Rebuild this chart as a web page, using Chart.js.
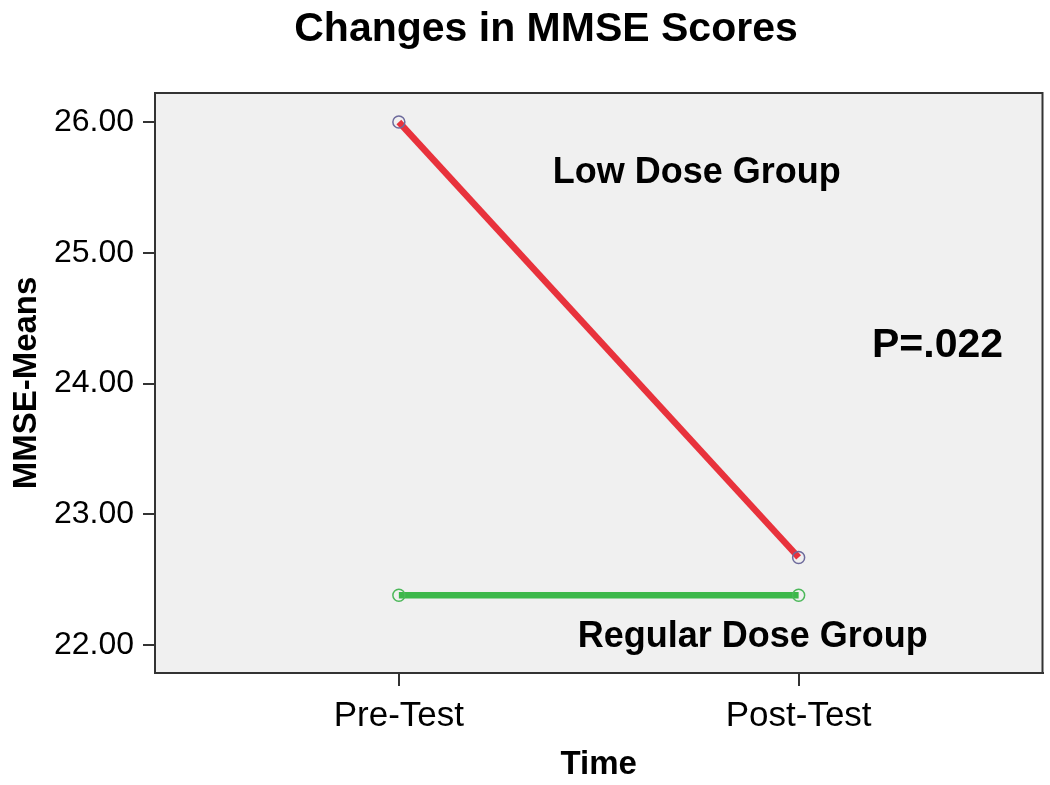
<!DOCTYPE html>
<html>
<head>
<meta charset="utf-8">
<script src="https://cdn.jsdelivr.net/npm/chart.js@4.4.1/dist/chart.umd.min.js"></script>
<style>
  html, body { margin: 0; padding: 0; background: #ffffff; }
  #wrap { width: 1050px; height: 785px; }
</style>
</head>
<body>
<div id="wrap"><canvas id="c" width="1050" height="785"></canvas></div>
<script>
// ---- data ----
const categories = ['Pre-Test', 'Post-Test'];
const lowDose = [26.00, 22.67];
const regularDose = [22.38, 22.38];
const yTicks = [22, 23, 24, 25, 26];
const titleText = 'Changes in MMSE Scores';
const yTitle = 'MMSE-Means';
const xTitle = 'Time';
const notes = [
  { text: 'Low Dose Group', x: 1.745, y: 25.533, size: 36 },
  { text: 'P=.022', x: 2.3475, y: 24.203, size: 41 },
  { text: 'Regular Dose Group', x: 1.885, y: 21.985, size: 36 }
];

const FONT = "'Liberation Sans', Arial, sans-serif";

const toPoints = arr => arr.map((v, i) => ({ x: i + 1, y: v }));

const panelPlugin = {
  id: 'panel',
  beforeDatasetsDraw(chart) {
    const { ctx, chartArea: a } = chart;
    ctx.save();
    ctx.fillStyle = '#f0f0f0';
    ctx.fillRect(a.left, a.top, a.right - a.left, a.bottom - a.top);
    ctx.strokeStyle = '#333333';
    ctx.lineWidth = 2;
    ctx.strokeRect(a.left, a.top, a.right - a.left, a.bottom - a.top);
    ctx.restore();
  },
  afterDatasetsDraw(chart) {
    const { ctx, scales } = chart;
    ctx.save();
    ctx.fillStyle = '#000000';
    ctx.textAlign = 'center';
    ctx.textBaseline = 'alphabetic';
    notes.forEach(n => {
      ctx.font = 'bold ' + n.size + 'px ' + FONT;
      ctx.fillText(n.text, scales.x.getPixelForValue(n.x), scales.y.getPixelForValue(n.y));
    });
    // chart title, centred slightly right of the canvas middle as in the source
    ctx.font = 'bold 41px ' + FONT;
    ctx.fillText(titleText, 546, 41);
    ctx.restore();
  }
};

new Chart(document.getElementById('c'), {
  type: 'line',
  data: {
    datasets: [
      {
        label: 'Low Dose Group',
        data: toPoints(lowDose),
        borderColor: '#e8323c',
        borderWidth: 6.5,
        pointRadius: 6,
        pointBorderWidth: 1.5,
        pointBorderColor: '#6d6a9c',
        pointBackgroundColor: 'rgba(0,0,0,0)',
        clip: false
      },
      {
        label: 'Regular Dose Group',
        data: toPoints(regularDose),
        borderColor: '#3cb84a',
        borderWidth: 6.5,
        pointRadius: 6,
        pointBorderWidth: 1.5,
        pointBorderColor: '#4cb85a',
        pointBackgroundColor: 'rgba(0,0,0,0)',
        clip: false
      }
    ]
  },
  options: {
    responsive: false,
    animation: false,
    layout: { padding: { left: 0, right: 7, top: 93, bottom: 0 } },
    plugins: {
      legend: { display: false },
      tooltip: { enabled: false },
      title: { display: false }
    },
    scales: {
      x: {
        type: 'linear',
        min: 0.39,
        max: 2.61,
        afterFit(scale) { scale.height = 112; },
        afterBuildTicks(scale) { scale.ticks = categories.map((c, i) => ({ value: i + 1 })); },
        ticks: {
          autoSkip: false,
          maxRotation: 0,
          color: '#000000',
          font: { family: FONT, size: 35 },
          padding: 9,
          callback: (v) => categories[v - 1]
        },
        grid: { drawOnChartArea: false, drawTicks: true, tickLength: 13, color: '#333333', lineWidth: 2 },
        border: { display: true, color: '#333333', width: 2 },
        title: {
          display: true,
          text: xTitle,
          color: '#000000',
          font: { family: FONT, size: 33, weight: 'bold' },
          padding: { top: 0, bottom: 0 }
        }
      },
      y: {
        type: 'linear',
        min: 21.786,
        max: 26.222,
        afterFit(scale) { scale.width = 155; },
        afterBuildTicks(scale) { scale.ticks = yTicks.map(v => ({ value: v })); },
        ticks: {
          color: '#000000',
          font: { family: FONT, size: 32 },
          padding: 9,
          callback: (v) => Number(v).toFixed(2)
        },
        grid: { drawOnChartArea: false, drawTicks: true, tickLength: 12, color: '#333333', lineWidth: 2 },
        border: { display: true, color: '#333333', width: 2 },
        title: {
          display: true,
          text: yTitle,
          color: '#000000',
          font: { family: FONT, size: 33, weight: 'bold' },
          padding: { top: 7, bottom: 0 }
        }
      }
    }
  },
  plugins: [panelPlugin]
});
</script>
</body>
</html>
